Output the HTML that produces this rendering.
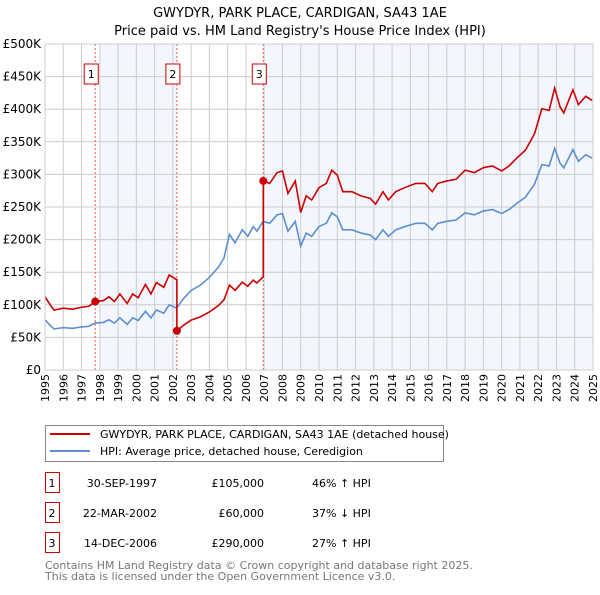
<!DOCTYPE html>
<html><head><meta charset="utf-8"><style>
body{margin:0;background:#fff;font-family:"Liberation Sans","DejaVu Sans",sans-serif;}
svg text{font-family:"DejaVu Sans","Liberation Sans",sans-serif;}
</style></head><body>
<svg id="chart" width="600" height="590">
<text x="300" y="17" text-anchor="middle" font-size="13">GWYDYR, PARK PLACE, CARDIGAN, SA43 1AE</text>
<text x="300" y="35" text-anchor="middle" font-size="13">Price paid vs. HM Land Registry's House Price Index (HPI)</text>
<g id="plot"></g>
<g>
<rect x="45.5" y="425.5" width="398" height="36" fill="#fff" stroke="#888"/>
<line x1="50" y1="434" x2="90" y2="434" stroke="#cc0000" stroke-width="2"/>
<text x="100" y="438" font-size="11">GWYDYR, PARK PLACE, CARDIGAN, SA43 1AE (detached house)</text>
<line x1="50" y1="451" x2="90" y2="451" stroke="#5b8fd0" stroke-width="2"/>
<text x="100" y="455" font-size="11">HPI: Average price, detached house, Ceredigion</text>
</g>
<g id="table" font-size="11"></g>
<text x="45" y="569" font-size="11" fill="#777">Contains HM Land Registry data © Crown copyright and database right 2025.</text>
<text x="45" y="580" font-size="11" fill="#777">This data is licensed under the Open Government Licence v3.0.</text>
</svg>
<script>
const hpiYears=[1995,1995.3,1995.5,1996,1996.5,1997,1997.4,1997.75,1998.2,1998.5,1998.8,1999.1,1999.5,1999.8,2000.1,2000.5,2000.8,2001.1,2001.5,2001.8,2002.2,2002.6,2003,2003.5,2004,2004.5,2004.8,2005.1,2005.4,2005.8,2006.1,2006.4,2006.6,2006.95,2007.3,2007.7,2008,2008.3,2008.7,2009.0,2009.3,2009.6,2010,2010.4,2010.7,2011,2011.3,2011.8,2012.3,2012.8,2013.1,2013.5,2013.8,2014.2,2014.7,2015.3,2015.8,2016.2,2016.5,2017,2017.5,2018,2018.5,2019,2019.5,2020,2020.4,2020.8,2021.3,2021.8,2022.2,2022.6,2022.9,2023.2,2023.4,2023.9,2024.2,2024.6,2024.95];
const hpiValues=[77,68,63,65,64,66,67,72,73,77,72,80,70,80,76,90,80,92,87,100,95,110,122,130,142,158,172,208,195,215,205,220,213,228,225,238,240,213,228,190,210,205,220,225,241,235,215,215,210,207,200,215,205,215,220,225,225,215,225,228,230,241,238,244,246,240,246,255,265,285,315,313,340,317,310,338,320,330,325];
const saleDates=[1997.75,2002.22,2006.95];
const salePrices=[105000,60000,290000];
const saleLabels=["30-SEP-1997","22-MAR-2002","14-DEC-2006"];
const salePriceText=["£105,000","£60,000","£290,000"];
const saleDiffText=["46% ↑ HPI","37% ↓ HPI","27% ↑ HPI"];
const yTicks=[0,50000,100000,150000,200000,250000,300000,350000,400000,450000,500000];
const yTickLabels=["£0","£50K","£100K","£150K","£200K","£250K","£300K","£350K","£400K","£450K","£500K"];
const xTicks=[1995,1996,1997,1998,1999,2000,2001,2002,2003,2004,2005,2006,2007,2008,2009,2010,2011,2012,2013,2014,2015,2016,2017,2018,2019,2020,2021,2022,2023,2024,2025];

const L=45,R=593,T=44,B=370;
const xs=y=>L+(y-1995)/30*(R-L);
const ys=v=>B-v/500000*(B-T);
const NS="http://www.w3.org/2000/svg";
const g=document.getElementById('plot');
function mk(tag,attrs,parent){const e=document.createElementNS(NS,tag);for(const k in attrs)e.setAttribute(k,attrs[k]);(parent||g).appendChild(e);return e;}
function hpiAt(t){for(let i=0;i<hpiYears.length-1;i++){if(t>=hpiYears[i]&&t<=hpiYears[i+1]){const f=(t-hpiYears[i])/(hpiYears[i+1]-hpiYears[i]);return (hpiValues[i]+f*(hpiValues[i+1]-hpiValues[i]))*1000;}}return hpiValues[hpiValues.length-1]*1000;}
let r1=mk('rect',{x:xs(1998),y:T,width:xs(saleDates[1])-xs(1998),height:B-T,fill:'#f3f6fd'});


let r2=mk('rect',{x:xs(saleDates[2])+2,y:T,width:R-xs(saleDates[2])-2,height:B-T,fill:'#f3f6fd'});


xTicks.forEach((t,i)=>{
 let l=mk('line',{x1:xs(t),x2:xs(t),y1:T,y2:B,stroke:'#ccc','stroke-width':1});
 
 
 let tx=mk('text',{x:0,y:0,'font-size':11,transform:`translate(${xs(t)+4},${B+4}) rotate(-90)`,'text-anchor':'end'});
 tx.textContent=t;
 
 
});
yTicks.forEach((v,i)=>{
 let l=mk('line',{x1:L,x2:R,y1:ys(v),y2:ys(v),stroke:'#ccc','stroke-width':1});
 
 
 let tx=mk('text',{x:L-4,y:ys(v)+4,'font-size':12,'text-anchor':'end'});
 tx.textContent=yTickLabels[i];
 
 
});
saleDates.forEach((d,i)=>{
 let l=mk('line',{x1:xs(d),x2:xs(d),y1:T,y2:B,stroke:'#e05a5a','stroke-width':1,'stroke-dasharray':'2,2'});
 
 
 let bx=mk('rect',{x:xs(d)-11,y:64,width:14,height:20,fill:'#fff',stroke:'#cc0000'});
 
 
 let tx=mk('text',{x:xs(d)-4,y:78,'font-size':11,'text-anchor':'middle'});
 tx.textContent=i+1;
 
 
});
let hp=hpiYears.map((t,i)=>xs(t)+','+ys(hpiValues[i]*1000)).join(' ');
let hl=mk('polyline',{points:hp,fill:'none',stroke:'#5b8fd0','stroke-width':1.6});


const ratios=salePrices.map((p,i)=>p/hpiAt(saleDates[i]));
function ratioAt(t){let r=ratios[0];for(let i=0;i<saleDates.length;i++)if(t>=saleDates[i])r=ratios[i];return r;}
let pts=[];
let times=hpiYears.slice();
saleDates.forEach(d=>{times.push(d-0.001);times.push(d);});
times.sort((a,b)=>a-b);
times.forEach(t=>{pts.push(xs(t)+','+ys(hpiAt(t)*ratioAt(t)));});
let pl=mk('polyline',{points:pts.join(' '),fill:'none',stroke:'#cc0000','stroke-width':1.6});


saleDates.forEach((d,i)=>{
 let c=mk('circle',{cx:xs(d),cy:ys(salePrices[i]),r:4,fill:'#cc0000'});
 
 
});
mk('rect',{x:L,y:T,width:R-L,height:B-T,fill:'none',stroke:'#ccc'});
const tb=document.getElementById('table');
saleDates.forEach((d,i)=>{
 const y=483+i*30;
 let b=mk('rect',{x:45.5,y:y-10.5,width:14,height:20,fill:'#fff',stroke:'#cc0000'},tb);
 
 
 let t0=mk('text',{x:52,y:y+4,'text-anchor':'middle'},tb);t0.textContent=i+1;
 
 
 let t1=mk('text',{x:157,y:y+4,'text-anchor':'end'},tb);t1.textContent=saleLabels[i];
 
 
 let t2=mk('text',{x:264,y:y+4,'text-anchor':'end'},tb);t2.textContent=salePriceText[i];
 
 
 let t3=mk('text',{x:312,y:y+4},tb);t3.textContent=saleDiffText[i];
 
 
});
</script>
</body></html>
